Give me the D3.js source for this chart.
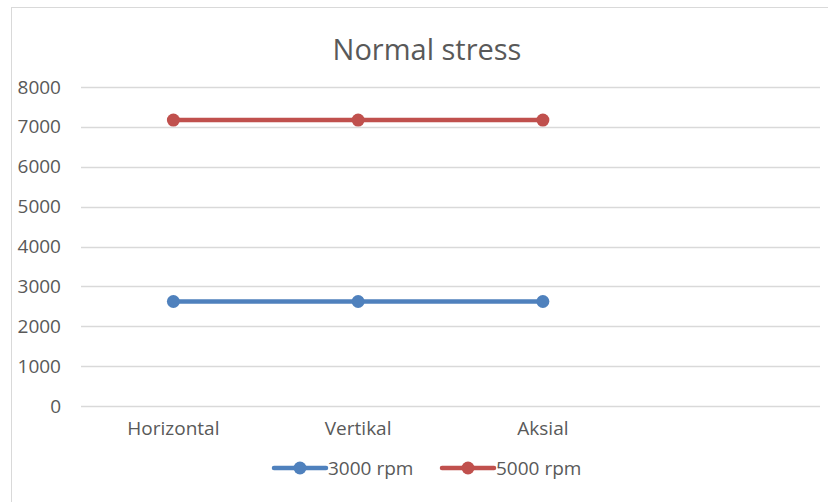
<!DOCTYPE html>
<html>
<head>
<meta charset="utf-8">
<script src="https://cdn.jsdelivr.net/npm/d3@7"></script>
<style>
  body { margin: 0; background: #fff; }
  #chart { width: 828px; height: 502px; }
  text { font-family: "Open Sans", sans-serif; fill: #595959; }
</style>
</head>
<body>
<div id="chart"></div>
<script>
// Data
var categories = ["Horizontal", "Vertikal", "Aksial", ""];
var rpm3000 = [2620, 2620, 2620];
var rpm5000 = [7170, 7170, 7170];
var seriesNames = ["3000 rpm", "5000 rpm"];
var seriesColors = ["#4F81BD", "#C0504D"];
var yTicks = [0, 1000, 2000, 3000, 4000, 5000, 6000, 7000, 8000];

var width = 828, height = 502;
var svg = d3.select("#chart").append("svg")
    .attr("width", width)
    .attr("height", height);

// Chart frame
svg.append("rect")
    .attr("x", 11.5).attr("y", 7.5)
    .attr("width", 830).attr("height", 500)
    .attr("fill", "none")
    .attr("stroke", "#d9d9d9");

var plot = { left: 81, right: 820, top: 87, bottom: 406 };

var x = d3.scaleBand()
    .domain(categories)
    .range([plot.left, plot.right]);
var y = d3.scaleLinear()
    .domain([0, 8000])
    .range([plot.bottom, plot.top]);

// Gridlines
svg.append("g").selectAll("line")
    .data(yTicks)
    .enter().append("line")
    .attr("x1", plot.left).attr("x2", plot.right)
    .attr("y1", function(d) { return Math.round(y(d)) + 0.5; })
    .attr("y2", function(d) { return Math.round(y(d)) + 0.5; })
    .attr("stroke", "#d9d9d9")
    .attr("stroke-width", 1.3);

// Y axis labels
var yAxis = d3.axisLeft(y).tickValues(yTicks).tickFormat(d3.format("d")).tickSize(0).tickPadding(0);
svg.append("g")
    .attr("transform", "translate(61,0)")
    .call(yAxis)
    .call(function(g) {
        g.select(".domain").remove();
        g.selectAll("text")
            .attr("fill", "#595959")
            .style("font-size", "19px")
            .style("font-family", "'Open Sans', sans-serif");
    });

// X axis labels
var xAxis = d3.axisBottom(x).tickSize(0).tickPadding(0);
svg.append("g")
    .attr("transform", "translate(0,421)")
    .call(xAxis)
    .call(function(g) {
        g.select(".domain").remove();
        g.selectAll("text")
            .attr("fill", "#595959")
            .style("font-size", "19px")
            .style("font-family", "'Open Sans', sans-serif");
    });

// Title
svg.append("text")
    .attr("x", 427).attr("y", 60)
    .attr("text-anchor", "middle")
    .style("font-size", "29px")
    .text("Normal stress");

// Lines
var line = d3.line()
    .x(function(d, i) { return x(categories[i]) + x.bandwidth() / 2; })
    .y(function(d) { return y(d); });

[rpm3000, rpm5000].forEach(function(vals, s) {
    var g = svg.append("g");
    g.append("path")
        .datum(vals)
        .attr("d", line)
        .attr("fill", "none")
        .attr("stroke", seriesColors[s])
        .attr("stroke-width", 4.5)
        .attr("stroke-linecap", "round");
    g.selectAll("circle")
        .data(vals)
        .enter().append("circle")
        .attr("cx", function(d, i) { return x(categories[i]) + x.bandwidth() / 2; })
        .attr("cy", function(d) { return y(d); })
        .attr("r", 6.5)
        .attr("fill", seriesColors[s]);
});

// Legend
var legendX = [274, 442];
seriesNames.forEach(function(name, s) {
    var lg = svg.append("g").attr("transform", "translate(" + legendX[s] + ",468)");
    lg.append("line")
        .attr("x1", 0).attr("x2", 52)
        .attr("stroke", seriesColors[s])
        .attr("stroke-width", 4.5)
        .attr("stroke-linecap", "round");
    lg.append("circle")
        .attr("cx", 26).attr("r", 6.5)
        .attr("fill", seriesColors[s]);
    lg.append("text")
        .attr("x", 54).attr("y", 7)
        .style("font-size", "19px")
        .text(name);
});
</script>
</body>
</html>
